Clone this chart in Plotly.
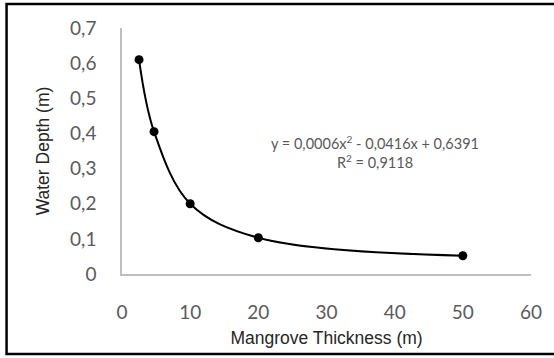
import plotly.graph_objects as go

# Data
thickness = [2.5, 4.7, 10, 20, 50]
depth = [0.61, 0.405, 0.2, 0.103, 0.052]
x_ticks = [0, 10, 20, 30, 40, 50, 60]
y_ticks = [0, 0.1, 0.2, 0.3, 0.4, 0.5, 0.6, 0.7]
y_tick_labels = ["0", "0,1", "0,2", "0,3", "0,4", "0,5", "0,6", "0,7"]
equation = "y = 0,0006x<sup>2</sup> - 0,0416x + 0,6391<br>R<sup>2</sup> = 0,9118"

W, H = 554, 358
L, R, T, B = 122, 21, 28, 84
pw, ph = W - L - R, H - T - B

def px(p):
    return (p - L) / pw

def py(p):
    return (H - B - p) / ph

fig = go.Figure()
fig.add_trace(go.Scatter(
    x=thickness, y=depth, mode="lines+markers",
    line=dict(color="black", width=2, shape="spline", smoothing=1),
    marker=dict(color="black", size=9),
    showlegend=False,
))

tick_font = dict(family="Lato, Open Sans, sans-serif", size=19, color="#5a5a60")
title_font = dict(family="Liberation Sans, Arial, sans-serif", size=17.5, color="#262626")

fig.update_layout(
    width=W, height=H,
    margin=dict(l=L, r=R, t=T, b=B),
    paper_bgcolor="white", plot_bgcolor="white",
    xaxis=dict(
        range=[0, 60], tickvals=x_ticks, showgrid=False, zeroline=False,
        showline=True, linecolor="#bfbfbf", linewidth=1.5,
        ticks="", tickfont=tick_font, ticklabelstandoff=20,
        title=dict(text="Mangrove Thickness (m)", font=title_font, standoff=10),
    ),
    yaxis=dict(
        range=[0, 0.7], tickvals=y_ticks, ticktext=y_tick_labels,
        showgrid=False, zeroline=False,
        showline=True, linecolor="#bfbfbf", linewidth=1.5,
        ticks="", tickfont=tick_font, ticklabelstandoff=20,
        title=dict(text="Water Depth (m)", font=title_font, standoff=16),
    ),
    annotations=[dict(
        text=equation, xref="paper", yref="paper",
        x=px(376), y=py(152), xanchor="center", yanchor="middle",
        showarrow=False, align="center",
        font=dict(family="Lato, Open Sans, sans-serif", size=14.5, color="#595959"),
    )],
    shapes=[dict(
        type="rect", xref="paper", yref="paper",
        x0=px(6), x1=px(560), y0=py(354), y1=py(4),
        line=dict(color="black", width=2.5), fillcolor="rgba(0,0,0,0)",
        layer="above",
    )],
)

fig.write_html("out.html")
